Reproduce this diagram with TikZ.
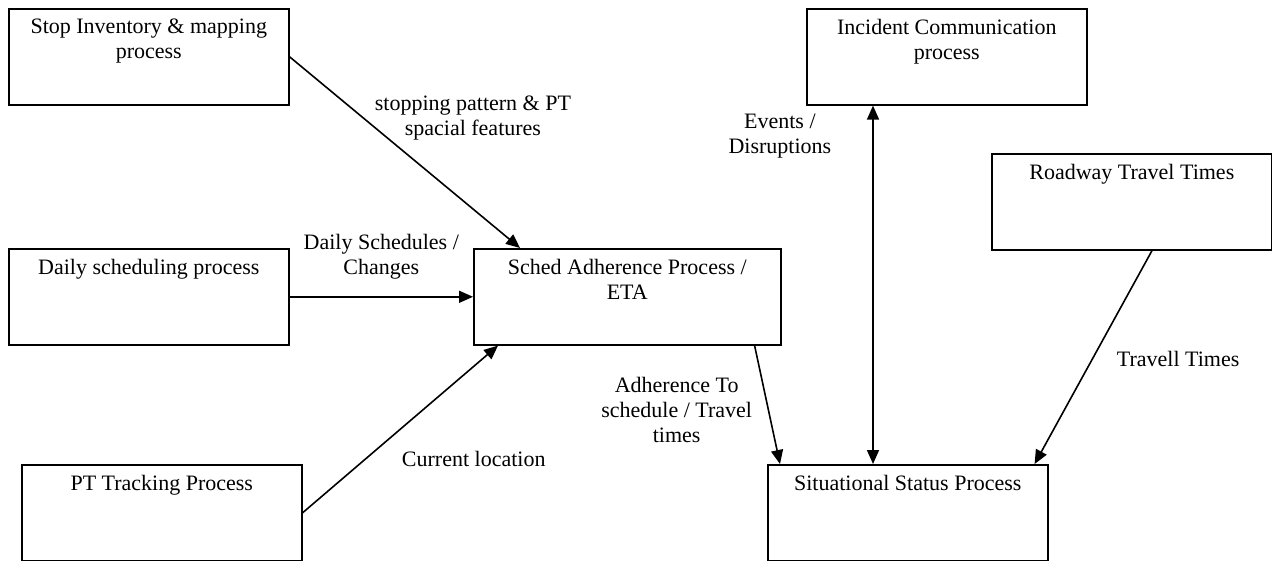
\documentclass[tikz,border=0pt]{standalone}
\usepackage{fontspec}
\setmainfont{Liberation Serif}
\usetikzlibrary{positioning, arrows.meta}

\begin{document}
\begin{tikzpicture}[x=1pt, y=-1pt, line width=1.6pt, >={Triangle[length=14pt,width=12pt]},
	font=\fontsize{22}{25}\selectfont,
	procbox/.style={draw, rectangle, minimum width=280pt, minimum height=96pt, anchor=north west, inner sep=0pt},
	boxtext/.style={align=center, inner sep=0pt},
	flowlbl/.style={align=center, inner sep=0pt}]
	\useasboundingbox (0,0) rectangle (1272,561);

	\node[procbox]   (stop)     at (8,8)     {};
	\node[procbox]   (daily)    at (8,248)   {};
	\node[procbox]   (track)    at (21,464)  {};
	\node[procbox, minimum width=307pt]   (sched)   at (473,248) {};
	\node[procbox]   (incident) at (806,8)   {};
	\node[procbox]   (road)     at (991,153) {};
	\node[procbox]   (status)   at (767,464) {};

	\node[boxtext, below=10pt of stop.north]     (stoptxt)     {Stop Inventory \& mapping\\process};
	\node[boxtext, below=10pt of daily.north]    (dailytxt)    {Daily scheduling process};
	\node[boxtext, below=10pt of track.north]    (tracktxt)    {PT Tracking Process};
	\node[boxtext, below=10pt of sched.north]    (schedtxt)    {Sched Adherence Process /\\ETA};
	\node[boxtext, below=10pt of incident.north] (incidenttxt) {Incident Communication\\process};
	\node[boxtext, below=10pt of road.north]     (roadtxt)     {Roadway Travel Times};
	\node[boxtext, below=10pt of status.north]   (statustxt)   {Situational Status Process};

	\path[->]
		(stop.east)  edge node[flowlbl, pos=0.31, anchor=west, xshift=13pt, yshift=-2pt] {stopping pattern \& PT\\spacial features} ([xshift=47pt]sched.north west)
		(daily.east) edge node[flowlbl, anchor=south, yshift=17pt] {Daily Schedules /\\Changes} (sched.west)
		(track.east) edge node[flowlbl, pos=0.32, anchor=west, xshift=36pt] {Current location} ([xshift=25pt]sched.south west)
		([xshift=-27pt]sched.south east) edge node[flowlbl, pos=0.56, anchor=east, xshift=-16pt, yshift=2pt] {Adherence To\\schedule / Travel\\times} ([xshift=13pt]status.north west)
		([xshift=161pt]road.south west) edge node[flowlbl, pos=0.51, anchor=west, xshift=24pt] {Travell Times} ([xshift=-14pt]status.north east);
	\path[<->]
		([xshift=67pt]incident.south west) edge node[flowlbl, pos=0.085, anchor=east, xshift=-41pt] {Events /\\Disruptions} ([xshift=106pt]status.north west);
\end{tikzpicture}
\end{document}
